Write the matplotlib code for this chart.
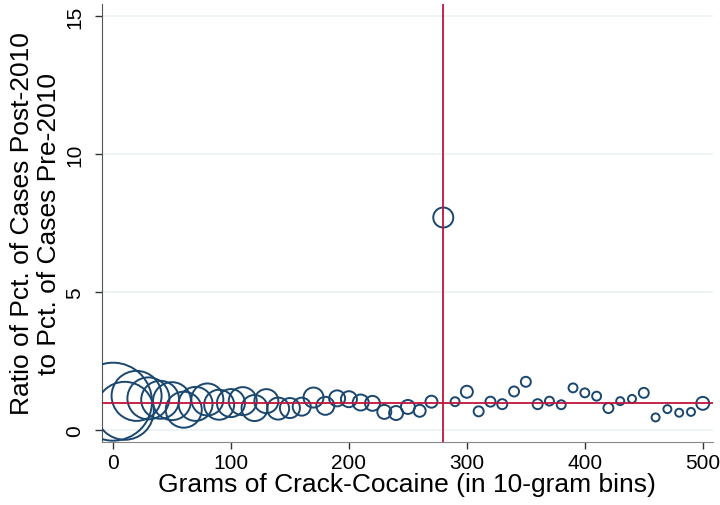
import matplotlib
matplotlib.use("Agg")
import matplotlib.pyplot as plt
import numpy as np

plt.rcParams['font.family'] = ['Liberation Sans', 'DejaVu Sans']

# Data: 10-gram bins, ratio of pct. of cases post/pre 2010, and bubble weights
grams = [0, 10, 20, 30, 40, 50, 60, 70, 80, 90,
         100, 110, 120, 130, 140, 150, 160, 170, 180, 190,
         200, 210, 220, 230, 240, 250, 260, 270, 280, 290,
         300, 310, 320, 330, 340, 350, 360, 370, 380, 390,
         400, 410, 420, 430, 440, 450, 460, 470, 480, 490, 500]
ratio = [1.03, 0.70, 1.24, 1.15, 1.10, 1.05, 0.74, 0.95, 1.11, 0.92,
         0.98, 1.05, 0.80, 1.05, 0.78, 0.80, 0.85, 1.18, 0.88, 1.15,
         1.12, 1.00, 0.97, 0.66, 0.62, 0.84, 0.70, 1.03, 7.70, 1.03,
         1.39, 0.68, 1.03, 0.94, 1.40, 1.75, 0.94, 1.05, 0.92, 1.53,
         1.35, 1.23, 0.80, 1.05, 1.13, 1.35, 0.46, 0.76, 0.63, 0.66, 0.97]
weights = [1520, 840, 625, 440, 360, 360, 324, 289, 256, 225,
           196, 196, 169, 144, 121, 100, 81, 100, 81, 64,
           64, 64, 56, 49, 49, 49, 36, 36, 100, 20,
           36, 25, 25, 25, 25, 25, 25, 20, 20, 20,
           20, 20, 25, 16, 16, 25, 16, 16, 16, 16, 42]

x_ticks = [0, 100, 200, 300, 400, 500]
y_ticks = [0, 5, 10, 15]
cutoff_x = 280
ref_y = 1

fig = plt.figure(figsize=(7.2, 5.06), dpi=100)
ax = fig.add_axes([0.1417, 0.1245, 0.8483, 0.8655])

# marker size: weight ~ radius^2 in px; s in pt^2
sizes = [(2 * np.sqrt(w) * 0.72) ** 2 for w in weights]
ax.scatter(grams, ratio, s=sizes, facecolors='none', edgecolors='#1a476f',
           linewidths=1.4, zorder=3)

ax.axhline(ref_y, color='#c0143c', linewidth=1.3, zorder=4)
ax.axvline(cutoff_x, color='#c0143c', linewidth=1.3, zorder=4)

ax.set_xlim(-9.3, 508.5)
ax.set_ylim(-0.43, 15.43)
ax.set_xticks(x_ticks)
ax.set_yticks(y_ticks)
ax.set_yticklabels([str(t) for t in y_ticks], rotation=90, va='center')
ax.tick_params(axis='both', labelsize=15, direction='out', length=5,
               width=1, color='#333333')
ax.tick_params(axis='y', pad=8)
ax.tick_params(axis='x', pad=3)
ax.grid(axis='y', color='#eaf2f3', linewidth=1.2, zorder=0)
ax.set_axisbelow(True)

for side in ['top', 'right']:
    ax.spines[side].set_visible(False)
ax.spines['left'].set_color('#555555')
ax.spines['bottom'].set_color('#888888')

ax.set_xlabel('Grams of Crack-Cocaine (in 10-gram bins)', fontsize=19, labelpad=0)
ax.set_ylabel('Ratio of Pct. of Cases Post-2010\nto Pct. of Cases Pre-2010',
              fontsize=19, labelpad=3, linespacing=1.15)

fig.savefig('out.png', dpi=100)
